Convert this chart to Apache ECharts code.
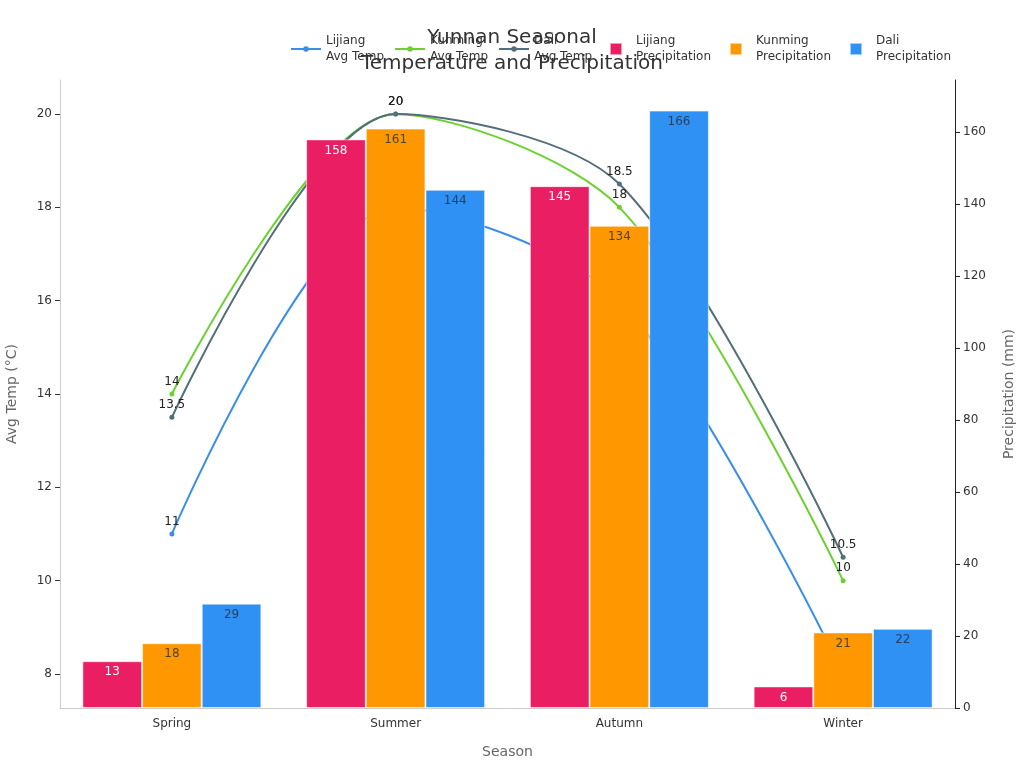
<!DOCTYPE html>
<html lang="en" style="height: 100%">

<head>
  <meta charset="utf-8">
</head>

<body>
  <div id="container" style="width: 1024px; height: 768px"></div>
  <style>
    body {
      margin: 0;
      background: #fff;
    }
  </style>
  <script src="https://cdn.jsdelivr.net/npm/echarts@6/dist/echarts.min.js"></script>
  <script type="text/javascript">
    // seasons and values
    var seasons = ['Spring', 'Summer', 'Autumn', 'Winter'];

    var lijiangTemp = [11, 18, 16, 8];
    var kunmingTemp = [14, 20, 18, 10];
    var daliTemp = [13.5, 20, 18.5, 10.5];

    var lijiangRain = [13, 158, 145, 6];
    var kunmingRain = [18, 161, 134, 21];
    var daliRain = [29, 144, 166, 22];

    var tempTicks = [8, 10, 12, 14, 16, 18, 20];
    var rainTicks = [0, 20, 40, 60, 80, 100, 120, 140, 160];

    var dom = document.getElementById('container');
    var myChart = echarts.init(dom, null, { renderer: 'canvas' });

    // square legend icon for bars
    var squareIcon = 'path://M0,0L10,0L10,10L0,10Z';

    function lineSeries(name, data, color) {
      return {
        name: name,
        type: 'line',
        yAxisIndex: 0,
        data: data,
        smooth: 0.3,
        symbol: 'circle',
        symbolSize: 5,
        lineStyle: { width: 2, color: color },
        itemStyle: { color: color },
        label: {
          show: true,
          position: 'top',
          distance: 4,
          color: '#222',
          fontSize: 12
        },
        z: 1
      };
    }

    function barSeries(name, data, color, labelColor) {
      return {
        name: name,
        type: 'bar',
        yAxisIndex: 1,
        data: data,
        barGap: '0%',
        barCategoryGap: '20%',
        itemStyle: {
          color: color,
          borderColor: 'rgba(255,255,255,0.55)',
          borderWidth: 1
        },
        label: {
          show: true,
          position: 'insideTop',
          distance: 5,
          color: labelColor,
          fontSize: 12
        },
        z: 2
      };
    }

    var legendText = { fontSize: 12, color: '#333', lineHeight: 16 };

    var chart_option = {
      animation: false,
      textStyle: { fontFamily: 'DejaVu Sans' },
      title: {
        text: 'Yunnan Seasonal\nTemperature and Precipitation',
        left: 'center',
        top: 20,
        textStyle: {
          fontFamily: 'DejaVu Sans',
          fontSize: 20,
          fontWeight: 'normal',
          color: '#333',
          lineHeight: 26
        }
      },
      // two legends so the line dots and bar squares get their own sizes
      legend: [
        {
          top: 28,
          left: 285,
          itemWidth: 30,
          itemHeight: 7,
          itemGap: 10,
          textStyle: legendText,
          data: ['Lijiang\nAvg Temp', 'Kunming\nAvg Temp', 'Dali\nAvg Temp']
        },
        {
          top: 28,
          left: 604,
          itemWidth: 30,
          itemHeight: 12,
          itemGap: 18,
          textStyle: legendText,
          data: [
            { name: 'Lijiang\nPrecipitation', icon: squareIcon },
            { name: 'Kunming\nPrecipitation', icon: squareIcon },
            { name: 'Dali\nPrecipitation', icon: squareIcon }
          ]
        }
      ],
      grid: {
        left: 60,
        right: 69,
        top: 80,
        bottom: 60,
        outerBoundsMode: 'none'
      },
      xAxis: {
        type: 'category',
        data: seasons,
        name: 'Season',
        nameLocation: 'middle',
        nameGap: 37,
        nameTextStyle: { fontSize: 14, color: '#666' },
        axisLine: { lineStyle: { color: '#ccc' } },
        axisTick: { alignWithLabel: true, lineStyle: { color: '#666' } },
        axisLabel: { color: '#333', fontSize: 12, margin: 10 }
      },
      yAxis: [
        {
          type: 'value',
          name: 'Avg Temp (°C)',
          nameLocation: 'middle',
          nameGap: 41,
          nameTextStyle: { fontSize: 14, color: '#666' },
          min: 7.27,
          max: 20.73,
          splitLine: { show: false },
          axisLine: { show: true, lineStyle: { color: '#ccc' } },
          axisTick: { show: true, customValues: tempTicks, lineStyle: { color: '#333' } },
          axisLabel: { customValues: tempTicks, color: '#333', fontSize: 12 }
        },
        {
          type: 'value',
          name: 'Precipitation (mm)',
          nameLocation: 'middle',
          nameGap: 47,
          nameTextStyle: { fontSize: 14, color: '#666' },
          min: 0,
          max: 174.5,
          position: 'right',
          splitLine: { show: false },
          axisLine: { show: true, lineStyle: { color: '#222' } },
          axisTick: { show: true, customValues: rainTicks, lineStyle: { color: '#222' } },
          axisLabel: { customValues: rainTicks, color: '#333', fontSize: 12 }
        }
      ],
      series: [
        lineSeries('Lijiang\nAvg Temp', lijiangTemp, '#3a8ee6'),
        lineSeries('Kunming\nAvg Temp', kunmingTemp, '#6bd12f'),
        lineSeries('Dali\nAvg Temp', daliTemp, '#546e7a'),
        barSeries('Lijiang\nPrecipitation', lijiangRain, '#e91e63', '#fff'),
        barSeries('Kunming\nPrecipitation', kunmingRain, '#ff9800', 'rgba(51,51,51,0.85)'),
        barSeries('Dali\nPrecipitation', daliRain, '#2f91f4', 'rgba(40,50,70,0.85)')
      ]
    };

    myChart.setOption(chart_option);
  </script>
</body>

</html>
